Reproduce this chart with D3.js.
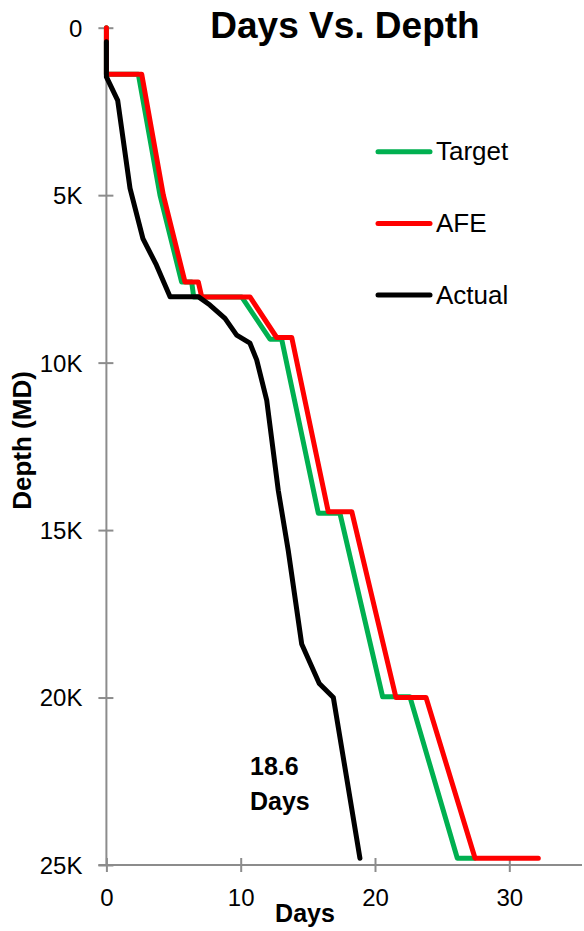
<!DOCTYPE html>
<html>
<head>
<meta charset="utf-8">
<script src="https://d3js.org/d3.v7.min.js"></script>
<style>
  body { margin: 0; background: #fff; }
  svg { display: block; font-family: "Liberation Sans", Arial, sans-serif; }
</style>
</head>
<body>
<div class="chart"></div>
<script>
// days vs depth (ft)
var targetDays  = [0, 0, 2.38, 3.99, 5.6, 6.35, 6.5, 10.07, 12.18, 13.05, 15.78, 17.39, 20.57, 22.6, 26.13, 27.4];
var targetDepth = [0, 1390, 1390, 5000, 7590, 7590, 8040, 8040, 9300, 9300, 14500, 14500, 19980, 19980, 24800, 24800];

var afeDays  = [0, 0, 2.63, 4.24, 5.85, 6.84, 7.1, 10.69, 12.68, 13.8, 16.52, 18.27, 21.56, 23.8, 27.45, 32.16];
var afeDepth = [0, 1390, 1390, 5000, 7590, 7590, 8040, 8040, 9250, 9250, 14450, 14450, 20000, 20000, 24800, 24800];

var actualDays  = [0, 0, 0.84, 1.76, 2.72, 3.68, 4.74, 6.84, 7.71, 8.83, 9.7, 10.69, 11.19, 11.94, 12.8, 13.54, 14.54, 15.85, 16.9, 18.88];
var actualDepth = [420, 1470, 2170, 4800, 6300, 7050, 8030, 8030, 8280, 8680, 9180, 9420, 9920, 11130, 13820, 15610, 18400, 19580, 20000, 24800];

var seriesNames  = ["Target", "AFE", "Actual"];
var seriesColors = ["#00b050", "#ff0000", "#000000"];
var xTicks = [0, 10, 20, 30];
var yTicks = [0, 5000, 10000, 15000, 20000, 25000];

var w = 584, h = 931;
var mLeft = 106.4, mTop = 27.7, mBottom = 865;

var svg = d3.select("div.chart").append("svg")
    .attr("width", w)
    .attr("height", h);

var xScale = d3.scaleLinear().domain([0, 35.5]).range([mLeft, mLeft + 35.5 * 13.43]);
var yScale = d3.scaleLinear().domain([0, 25000]).range([mTop, mBottom]);

// axes
var xAxis = d3.axisBottom(xScale).tickValues(xTicks).tickSize(7).tickPadding(0);
var yAxis = d3.axisLeft(yScale).tickValues(yTicks).tickSize(8)
    .tickFormat(function(d){ return d === 0 ? "0" : (d / 1000) + "K"; });

var gx = svg.append("g")
    .attr("transform", "translate(0," + mBottom + ")")
    .call(xAxis);
var gy = svg.append("g")
    .attr("transform", "translate(" + mLeft + ",0)")
    .call(yAxis);

[gx, gy].forEach(function(g){
    g.select(".domain").attr("stroke", "#8c8c8c").attr("stroke-width", 2);
    g.selectAll(".tick line").attr("stroke", "#8c8c8c").attr("stroke-width", 2);
    g.selectAll(".tick text").attr("fill", "#000").attr("font-size", 24)
        .attr("font-family", "Liberation Sans, Arial, sans-serif");
});
gx.select(".domain").attr("d", "M" + (mLeft - 8) + ",0H" + (w - 2));
gx.selectAll(".tick line").attr("y1", -7).attr("y2", 7);
gx.selectAll(".tick text").attr("y", 41).attr("dy", 0);
gy.select(".domain").attr("d", "M0," + mTop + "V" + mBottom);
gy.selectAll(".tick line").attr("x1", -8).attr("x2", 7);
gy.selectAll(".tick text").attr("x", -24).attr("dy", "0.35em");

// lines
var line = d3.line()
    .x(function(d){ return xScale(d[0]); })
    .y(function(d){ return yScale(d[1]); });

var series = [
    d3.zip(targetDays, targetDepth),
    d3.zip(afeDays, afeDepth),
    d3.zip(actualDays, actualDepth)
];

series.forEach(function(s, i){
    svg.append("path")
        .attr("d", line(s))
        .attr("fill", "none")
        .attr("stroke", seriesColors[i])
        .attr("stroke-width", 5)
        .attr("stroke-linejoin", "round")
        .attr("stroke-linecap", "round");
});

// legend
var legend = svg.append("g");
seriesNames.forEach(function(name, i){
    var ly = 151.7 + i * 71.7;
    legend.append("line")
        .attr("x1", 378).attr("x2", 430)
        .attr("y1", ly).attr("y2", ly)
        .attr("stroke", seriesColors[i])
        .attr("stroke-width", 5)
        .attr("stroke-linecap", "round");
    legend.append("text")
        .attr("x", 436).attr("y", ly + 8.5)
        .attr("font-size", 26)
        .text(name);
});

// titles
svg.append("text")
    .attr("x", 345).attr("y", 38)
    .attr("text-anchor", "middle")
    .attr("font-size", 37).attr("font-weight", "bold")
    .text("Days Vs. Depth");

svg.append("text")
    .attr("x", 305).attr("y", 921.5)
    .attr("text-anchor", "middle")
    .attr("font-size", 25).attr("font-weight", "bold")
    .text("Days");

svg.append("text")
    .attr("transform", "translate(31,440.5) rotate(-90)")
    .attr("text-anchor", "middle")
    .attr("font-size", 26).attr("font-weight", "bold")
    .text("Depth (MD)");

// note
svg.append("text")
    .attr("x", 250).attr("y", 775)
    .attr("font-size", 25).attr("font-weight", "bold")
    .text("18.6");
svg.append("text")
    .attr("x", 250).attr("y", 810)
    .attr("font-size", 25).attr("font-weight", "bold")
    .text("Days");
</script>
</body>
</html>
